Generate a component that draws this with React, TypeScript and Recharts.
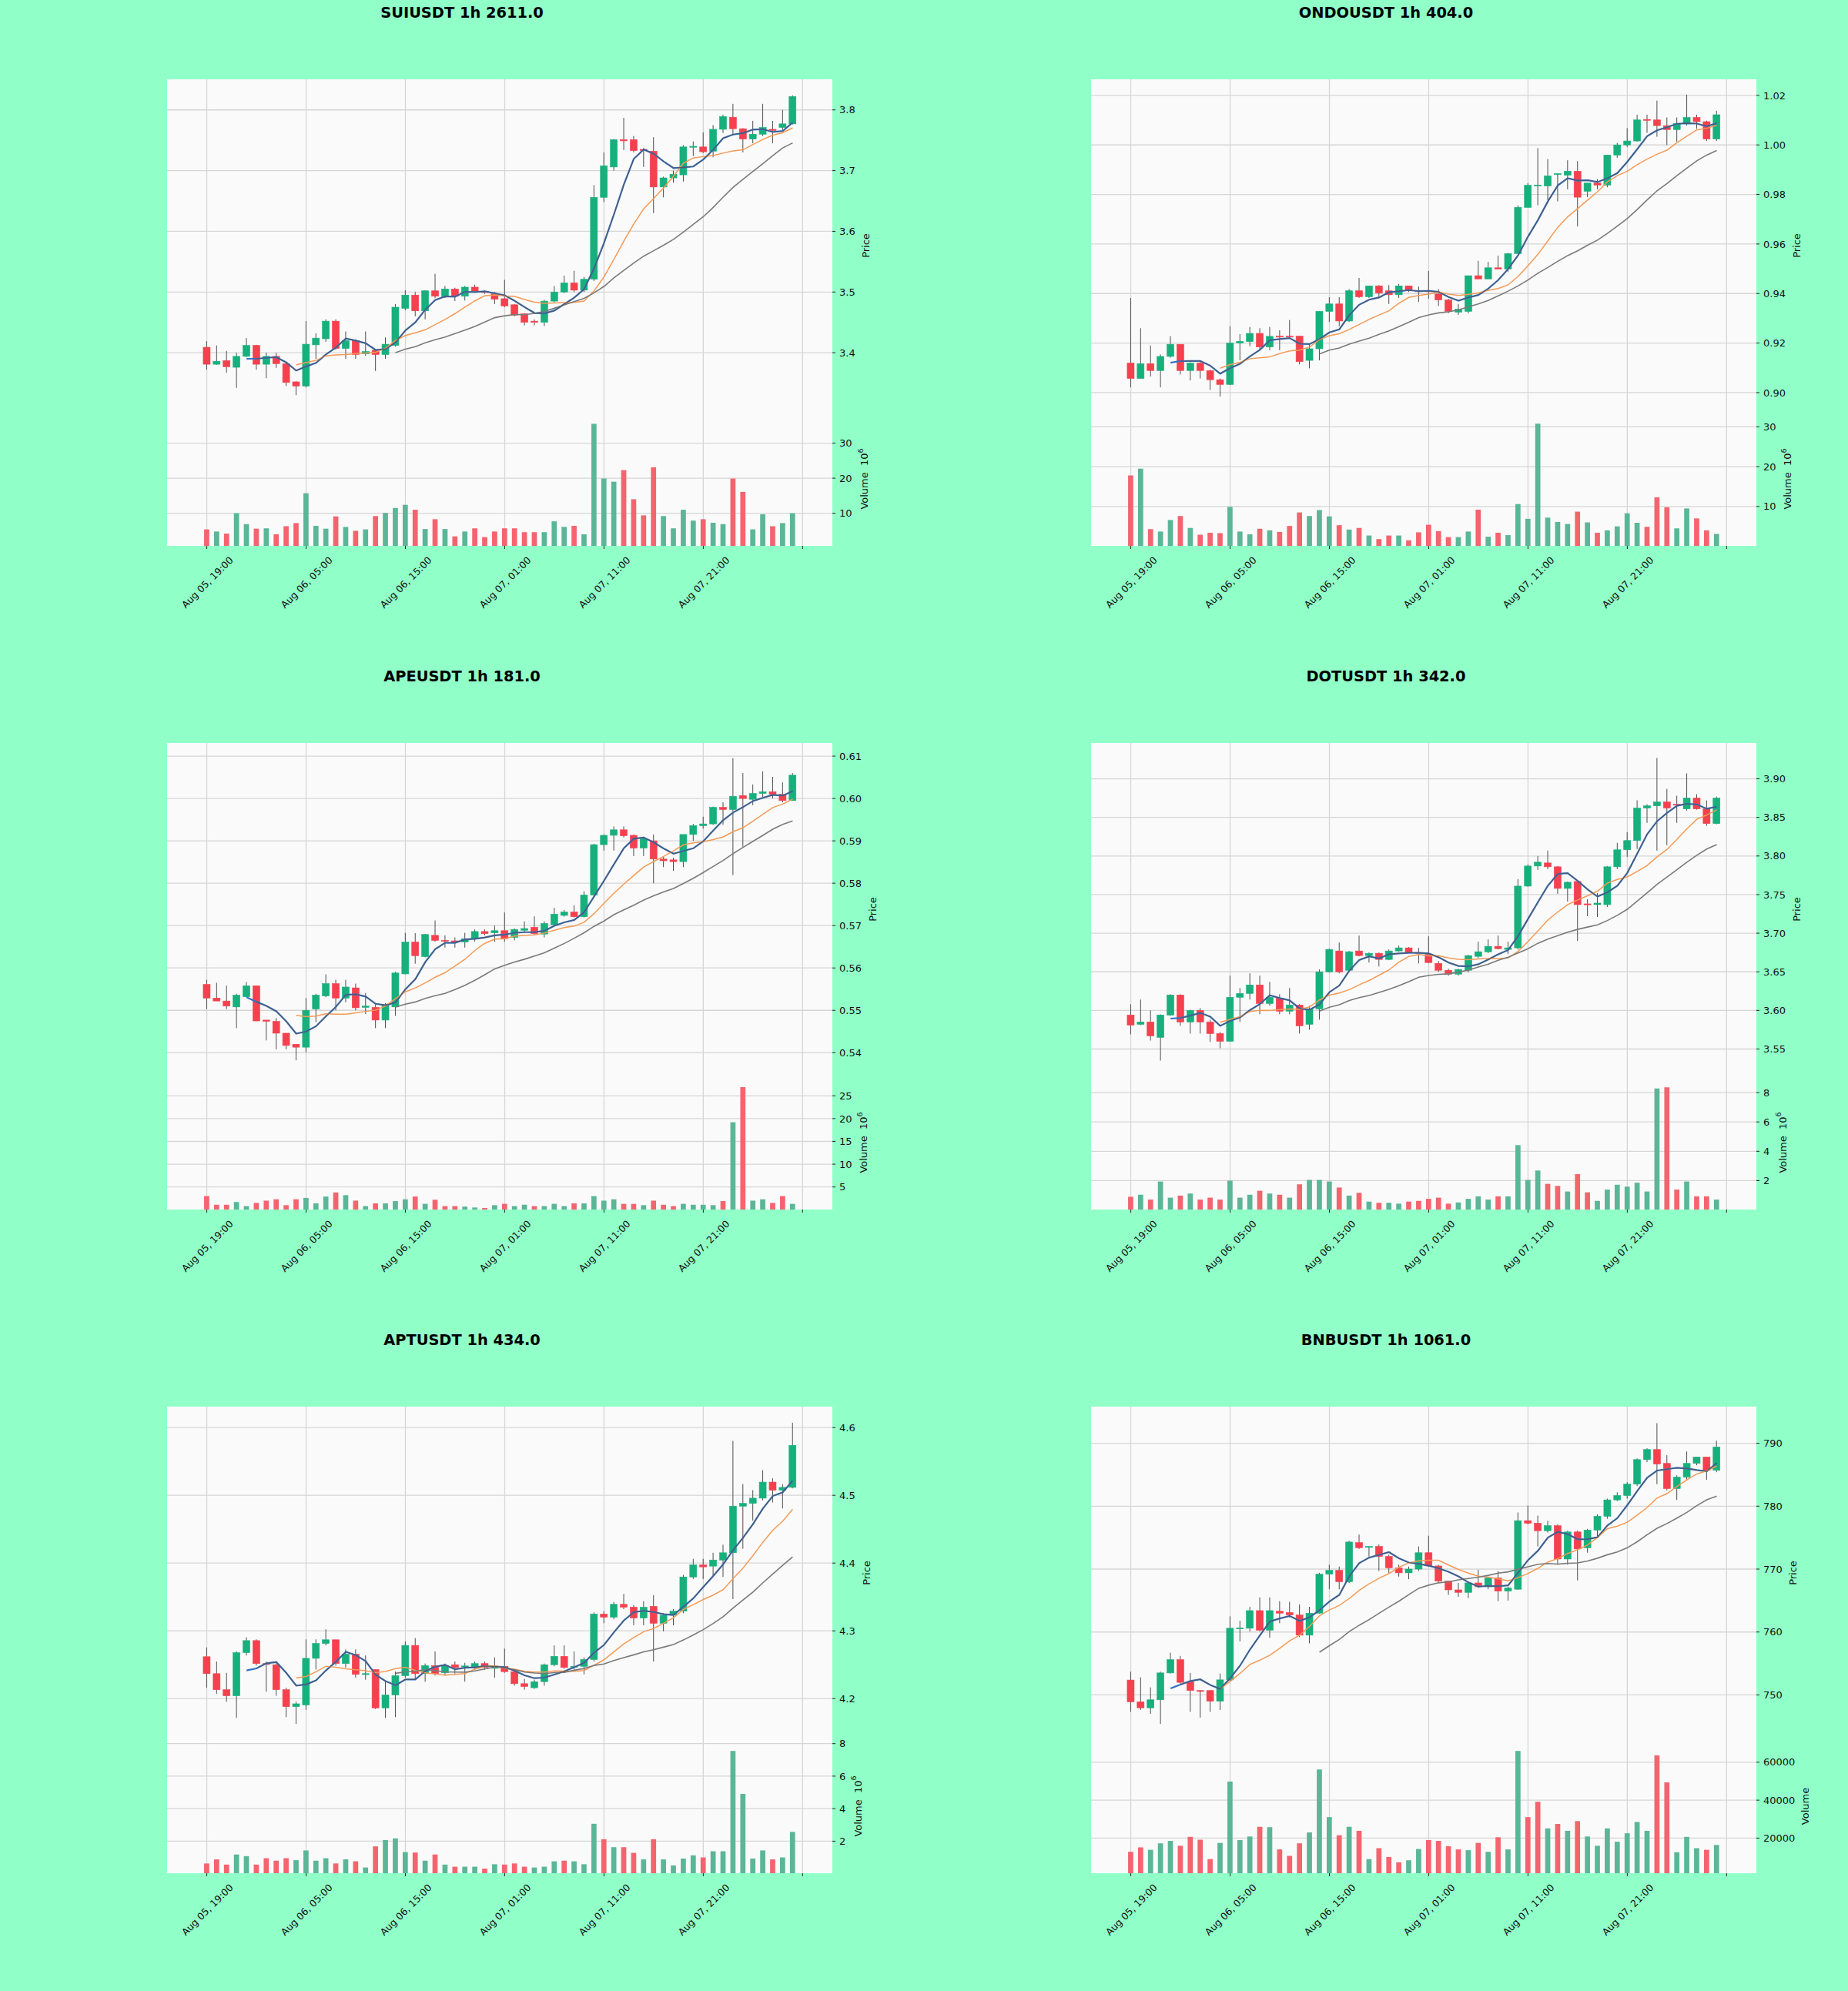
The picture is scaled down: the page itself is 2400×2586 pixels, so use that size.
import React from 'react'
import { ComposedChart, Bar, Line, XAxis, YAxis, CartesianGrid } from 'recharts'

const FONT = '"DejaVu Sans", Verdana, sans-serif'
const FIG_BG = '#90ffc8'
const PANEL_BG = '#fafafa'
const GRID = '#d6d6d6'
const UP = '#17b07c'
const DOWN = '#f5404e'
const VOL_UP = '#5ab697'
const VOL_DOWN = '#f3646e'
const WICK = '#4d4d4d'

const PLOT_W = 864
const AXIS_W = 120
const PRICE_H = 432
const VOL_H = 174
const XLAB_H = 110
const PAD = 12
const BODY_W = 9
const VOL_W = 6.7

const TIME_LABELS = ['Aug 05, 19:00', 'Aug 06, 05:00', 'Aug 06, 15:00', 'Aug 07, 01:00', 'Aug 07, 11:00', 'Aug 07, 21:00']
const X_TICKS = [0, 10, 20, 30, 40, 50, 60]

// candles as [open, high, low, close]
const SUI_OHLC = [
  [3.409, 3.419, 3.372, 3.381], [3.381, 3.412, 3.38, 3.386], [3.387, 3.403, 3.367, 3.377], [3.376, 3.4, 3.342, 3.394],
  [3.394, 3.424, 3.393, 3.412], [3.412, 3.413, 3.372, 3.381], [3.381, 3.4, 3.358, 3.394], [3.394, 3.4, 3.375, 3.382],
  [3.382, 3.385, 3.345, 3.351], [3.352, 3.353, 3.33, 3.345], [3.345, 3.452, 3.343, 3.414], [3.413, 3.432, 3.39, 3.424],
  [3.423, 3.455, 3.418, 3.452], [3.452, 3.455, 3.405, 3.407], [3.407, 3.435, 3.39, 3.42], [3.42, 3.422, 3.39, 3.397],
  [3.398, 3.435, 3.395, 3.402], [3.404, 3.405, 3.37, 3.397], [3.397, 3.425, 3.39, 3.414], [3.412, 3.48, 3.41, 3.475],
  [3.473, 3.503, 3.47, 3.495], [3.495, 3.5, 3.46, 3.469], [3.469, 3.503, 3.455, 3.502], [3.502, 3.53, 3.49, 3.493],
  [3.493, 3.51, 3.49, 3.505], [3.505, 3.507, 3.485, 3.493], [3.493, 3.51, 3.486, 3.508], [3.508, 3.512, 3.499, 3.501],
  [3.501, 3.502, 3.497, 3.499], [3.497, 3.5, 3.48, 3.488], [3.489, 3.52, 3.475, 3.477], [3.479, 3.48, 3.46, 3.462],
  [3.464, 3.465, 3.445, 3.45], [3.452, 3.455, 3.445, 3.45], [3.45, 3.487, 3.444, 3.485], [3.485, 3.51, 3.483, 3.5],
  [3.5, 3.527, 3.498, 3.515], [3.515, 3.535, 3.5, 3.503], [3.503, 3.525, 3.5, 3.521], [3.521, 3.676, 3.518, 3.656],
  [3.656, 3.73, 3.648, 3.708], [3.706, 3.752, 3.7, 3.751], [3.751, 3.787, 3.734, 3.749], [3.751, 3.757, 3.73, 3.733],
  [3.735, 3.737, 3.706, 3.733], [3.732, 3.755, 3.63, 3.673], [3.673, 3.69, 3.656, 3.688], [3.688, 3.7, 3.68, 3.694],
  [3.693, 3.742, 3.682, 3.739], [3.739, 3.748, 3.724, 3.74], [3.739, 3.763, 3.729, 3.731], [3.732, 3.775, 3.722, 3.768],
  [3.768, 3.792, 3.762, 3.789], [3.788, 3.81, 3.76, 3.769], [3.769, 3.77, 3.73, 3.752], [3.752, 3.782, 3.745, 3.76],
  [3.76, 3.81, 3.757, 3.771], [3.768, 3.782, 3.745, 3.766], [3.771, 3.8, 3.765, 3.777], [3.777, 3.824, 3.776, 3.822],
]
const SUI_VOL = [
  5.4, 4.8, 4.2, 10, 6.9, 5.6, 5.7, 4.0, 6.3, 7.2, 15.7, 6.4, 5.6, 9.1, 6.1, 5.0, 5.4, 9.2, 10.1, 11.5,
  12.4, 11.0, 5.5, 8.3, 5.5, 3.4, 4.8, 5.7, 3.2, 4.8, 5.7, 5.7, 4.6, 4.6, 4.6, 7.7, 6.1, 6.4, 4.0, 35.5,
  19.9, 19.0, 22.3, 14.0, 9.4, 23.1, 9.2, 5.7, 11.0, 7.9, 8.3, 7.3, 6.9, 19.9, 16.1, 5.4, 9.7, 6.3, 7.2, 10.0,
]

const ONDO_OHLC = [
  [0.9119, 0.9382, 0.9021, 0.9057], [0.9057, 0.926, 0.9057, 0.9117], [0.9117, 0.919, 0.9065, 0.9089], [0.9089, 0.9154, 0.9021, 0.9146],
  [0.9146, 0.9228, 0.9141, 0.9195], [0.9195, 0.9195, 0.9073, 0.9089], [0.9089, 0.9122, 0.9049, 0.9119], [0.9119, 0.913, 0.9057, 0.9089],
  [0.9089, 0.9093, 0.9011, 0.9052], [0.9052, 0.9057, 0.8984, 0.9033], [0.9033, 0.9268, 0.903, 0.92], [0.92, 0.9236, 0.913, 0.9207],
  [0.9206, 0.9265, 0.9187, 0.9239], [0.9239, 0.926, 0.9171, 0.9184], [0.9184, 0.9265, 0.9171, 0.9227], [0.9228, 0.9252, 0.9171, 0.9224],
  [0.9228, 0.9293, 0.9217, 0.9226], [0.9228, 0.9228, 0.9114, 0.9125], [0.913, 0.9198, 0.9098, 0.9177], [0.9177, 0.9328, 0.913, 0.9328],
  [0.9328, 0.9385, 0.9285, 0.9358], [0.9358, 0.9385, 0.9268, 0.9289], [0.9289, 0.9418, 0.9285, 0.9411], [0.9411, 0.9463, 0.9382, 0.9387],
  [0.9387, 0.9431, 0.9382, 0.9431], [0.9431, 0.9434, 0.9385, 0.9402], [0.9411, 0.9434, 0.9358, 0.9395], [0.9395, 0.9439, 0.9382, 0.9431],
  [0.9431, 0.9431, 0.9406, 0.9411], [0.9411, 0.9428, 0.9366, 0.9408], [0.9411, 0.9491, 0.9379, 0.9409], [0.9398, 0.9418, 0.935, 0.9374],
  [0.9374, 0.9379, 0.932, 0.9328], [0.9325, 0.9358, 0.9314, 0.9337], [0.9328, 0.9472, 0.932, 0.9472], [0.9472, 0.9532, 0.9459, 0.9459],
  [0.9459, 0.9528, 0.9459, 0.9504], [0.9504, 0.9553, 0.9499, 0.9499], [0.9499, 0.9564, 0.9488, 0.9561], [0.9561, 0.9756, 0.9561, 0.9748],
  [0.9748, 0.9846, 0.9748, 0.9837], [0.9835, 0.9987, 0.9756, 0.9838], [0.9834, 0.9943, 0.9777, 0.9875], [0.9881, 0.9886, 0.9772, 0.9884],
  [0.9878, 0.9938, 0.9821, 0.9894], [0.9894, 0.9935, 0.9671, 0.9789], [0.9813, 0.9846, 0.9789, 0.9846], [0.9846, 0.9862, 0.9821, 0.9838],
  [0.9838, 0.9959, 0.9829, 0.9959], [0.9959, 1.0008, 0.9948, 1.0], [1.0, 1.0068, 0.9992, 1.0016], [1.0016, 1.0122, 1.0013, 1.0101],
  [1.0103, 1.0122, 1.0049, 1.01], [1.0101, 1.0179, 1.0033, 1.0078], [1.0078, 1.0111, 1.0, 1.0062], [1.0062, 1.0111, 1.0013, 1.0086],
  [1.0086, 1.0203, 1.0078, 1.0111], [1.0111, 1.0122, 1.0065, 1.0094], [1.0094, 1.0098, 1.0016, 1.0024], [1.0024, 1.0138, 1.0016, 1.0122],
]
const ONDO_VOL = [
  17.8, 19.5, 4.3, 3.7, 6.6, 7.6, 4.6, 2.9, 3.4, 3.3, 9.9, 3.7, 3.0, 4.4, 4.0, 3.6, 5.1, 8.5, 7.6, 9.1,
  7.5, 5.3, 4.2, 4.6, 2.7, 1.8, 2.7, 2.7, 1.5, 3.5, 5.4, 3.8, 2.3, 2.3, 3.7, 9.2, 2.4, 3.4, 2.8, 10.6,
  6.9, 30.8, 7.2, 6.1, 5.6, 8.7, 6.0, 3.4, 4.0, 5.0, 8.3, 5.9, 4.9, 12.3, 9.8, 4.5, 9.5, 7.0, 4.0, 3.1,
]

const APE_OHLC = [
  [0.5561, 0.5572, 0.5503, 0.5529], [0.5529, 0.5565, 0.5522, 0.5522], [0.5522, 0.5558, 0.5503, 0.551], [0.5508, 0.5539, 0.5458, 0.5536],
  [0.5532, 0.5567, 0.5531, 0.5558], [0.5558, 0.5558, 0.5474, 0.5475], [0.5477, 0.5477, 0.5429, 0.5474], [0.5474, 0.5482, 0.5408, 0.5446],
  [0.5446, 0.5446, 0.5408, 0.5417], [0.542, 0.542, 0.5382, 0.5413], [0.5413, 0.5529, 0.5401, 0.55], [0.5503, 0.5539, 0.5472, 0.5536],
  [0.5534, 0.5585, 0.5531, 0.5563], [0.5563, 0.5572, 0.55, 0.5529], [0.5529, 0.5572, 0.5519, 0.5555], [0.5553, 0.5563, 0.55, 0.5506],
  [0.5507, 0.5541, 0.5491, 0.551], [0.5507, 0.5514, 0.5458, 0.5477], [0.5477, 0.5517, 0.5458, 0.5512], [0.5508, 0.5591, 0.5487, 0.5588],
  [0.5586, 0.5683, 0.5585, 0.5661], [0.5661, 0.5682, 0.561, 0.5629], [0.5627, 0.568, 0.5625, 0.5679], [0.5677, 0.5712, 0.5662, 0.5665],
  [0.5665, 0.5677, 0.5648, 0.5663], [0.5664, 0.5672, 0.5648, 0.5661], [0.5661, 0.5683, 0.5648, 0.5669], [0.5669, 0.5691, 0.5662, 0.5686],
  [0.5686, 0.5691, 0.5677, 0.5681], [0.5683, 0.57, 0.5662, 0.5688], [0.5688, 0.5731, 0.5662, 0.5669], [0.5672, 0.5693, 0.5665, 0.5691],
  [0.5689, 0.571, 0.5683, 0.5693], [0.5696, 0.5722, 0.5677, 0.5681], [0.568, 0.571, 0.5672, 0.5705], [0.5702, 0.5742, 0.57, 0.5727],
  [0.5724, 0.5737, 0.5721, 0.5732], [0.5732, 0.5748, 0.5719, 0.5721], [0.5721, 0.5781, 0.5719, 0.5772], [0.5772, 0.5893, 0.5769, 0.5891],
  [0.5891, 0.5915, 0.5877, 0.5913], [0.5913, 0.5934, 0.5877, 0.5926], [0.5926, 0.5934, 0.5908, 0.5912], [0.5913, 0.5915, 0.5864, 0.5883],
  [0.5883, 0.591, 0.5864, 0.5905], [0.59, 0.5915, 0.58, 0.5857], [0.5857, 0.5862, 0.5838, 0.5853], [0.5855, 0.586, 0.5829, 0.5851],
  [0.5851, 0.5915, 0.5838, 0.5915], [0.5915, 0.594, 0.59, 0.5936], [0.5936, 0.5957, 0.5929, 0.594], [0.594, 0.5981, 0.5938, 0.5979],
  [0.5979, 0.5991, 0.5938, 0.5974], [0.5974, 0.6095, 0.5819, 0.6005], [0.6007, 0.606, 0.5886, 0.6], [0.5998, 0.6033, 0.5984, 0.6012],
  [0.6012, 0.6064, 0.6, 0.6016], [0.6016, 0.6051, 0.6, 0.601], [0.601, 0.6038, 0.5991, 0.5995], [0.5995, 0.606, 0.5995, 0.6055],
]
const APE_VOL = [
  3.0, 1.1, 1.1, 1.7, 0.8, 1.5, 2.0, 2.3, 1.0, 2.3, 2.6, 1.4, 2.9, 3.8, 3.2, 2.0, 0.8, 1.4, 1.4, 1.9,
  2.3, 2.9, 1.3, 2.2, 0.8, 0.8, 0.7, 0.5, 0.4, 1.0, 1.3, 0.8, 1.1, 0.8, 0.8, 1.3, 0.8, 1.4, 1.4, 3.0,
  2.0, 2.3, 1.3, 1.3, 1.0, 2.0, 1.1, 0.8, 1.3, 1.1, 1.1, 1.0, 1.9, 19.2, 26.9, 2.0, 2.3, 1.5, 3.0, 1.3,
]

const DOT_OHLC = [
  [3.594, 3.608, 3.569, 3.581], [3.582, 3.614, 3.581, 3.585], [3.585, 3.6, 3.561, 3.567], [3.565, 3.595, 3.535, 3.594],
  [3.594, 3.621, 3.593, 3.62], [3.62, 3.621, 3.58, 3.585], [3.585, 3.601, 3.57, 3.6], [3.6, 3.603, 3.57, 3.585],
  [3.585, 3.588, 3.559, 3.57], [3.57, 3.572, 3.551, 3.56], [3.56, 3.645, 3.56, 3.617], [3.617, 3.629, 3.585, 3.622],
  [3.622, 3.648, 3.614, 3.633], [3.633, 3.645, 3.595, 3.609], [3.609, 3.637, 3.606, 3.617], [3.616, 3.621, 3.595, 3.599],
  [3.599, 3.629, 3.595, 3.607], [3.607, 3.608, 3.57, 3.58], [3.582, 3.606, 3.575, 3.602], [3.602, 3.653, 3.588, 3.65],
  [3.65, 3.68, 3.649, 3.679], [3.677, 3.688, 3.648, 3.65], [3.652, 3.677, 3.65, 3.676], [3.677, 3.697, 3.67, 3.671],
  [3.671, 3.675, 3.662, 3.674], [3.674, 3.675, 3.657, 3.666], [3.666, 3.679, 3.665, 3.677], [3.677, 3.684, 3.676, 3.681],
  [3.681, 3.682, 3.674, 3.675], [3.675, 3.681, 3.661, 3.674], [3.673, 3.696, 3.661, 3.662], [3.661, 3.664, 3.65, 3.652],
  [3.652, 3.654, 3.645, 3.647], [3.647, 3.654, 3.645, 3.653], [3.652, 3.672, 3.649, 3.671], [3.67, 3.689, 3.668, 3.676],
  [3.676, 3.692, 3.674, 3.683], [3.683, 3.697, 3.679, 3.68], [3.679, 3.689, 3.673, 3.681], [3.681, 3.77, 3.679, 3.761],
  [3.761, 3.789, 3.76, 3.787], [3.787, 3.8, 3.782, 3.792], [3.791, 3.807, 3.783, 3.786], [3.786, 3.787, 3.751, 3.758],
  [3.758, 3.767, 3.741, 3.766], [3.767, 3.767, 3.69, 3.737], [3.738, 3.744, 3.722, 3.737], [3.737, 3.752, 3.721, 3.739],
  [3.737, 3.787, 3.734, 3.786], [3.786, 3.817, 3.783, 3.808], [3.808, 3.831, 3.799, 3.82], [3.82, 3.872, 3.809, 3.862],
  [3.862, 3.867, 3.843, 3.865], [3.865, 3.927, 3.807, 3.87], [3.87, 3.887, 3.814, 3.862], [3.867, 3.878, 3.843, 3.866],
  [3.861, 3.907, 3.859, 3.875], [3.875, 3.88, 3.86, 3.861], [3.861, 3.872, 3.839, 3.842], [3.842, 3.877, 3.841, 3.875],
]
const DOT_VOL = [
  0.9, 1.04, 0.71, 1.94, 0.84, 0.98, 1.12, 0.71, 0.84, 0.71, 2.0, 0.84, 1.04, 1.31, 1.12, 1.04, 0.84, 1.75, 2.05, 2.05,
  1.94, 1.53, 0.98, 1.17, 0.57, 0.49, 0.49, 0.43, 0.57, 0.62, 0.76, 0.84, 0.43, 0.51, 0.76, 0.93, 0.71, 0.93, 0.93, 4.42,
  2.05, 2.69, 1.78, 1.64, 1.26, 2.44, 1.2, 0.62, 1.39, 1.72, 1.59, 1.86, 1.26, 8.28, 8.36, 1.39, 1.94, 0.93, 0.93, 0.71,
]

const APT_OHLC = [
  [4.2618, 4.2755, 4.216, 4.2368], [4.2368, 4.2547, 4.2071, 4.2131], [4.2131, 4.238, 4.1953, 4.2042], [4.2042, 4.2696, 4.1715, 4.2678],
  [4.2678, 4.2903, 4.2636, 4.2856], [4.2856, 4.2874, 4.2487, 4.2517], [4.2517, 4.2547, 4.2101, 4.2512], [4.25, 4.2517, 4.2042, 4.2131],
  [4.2131, 4.216, 4.1727, 4.1881], [4.1881, 4.1953, 4.1626, 4.1923], [4.1905, 4.2874, 4.1834, 4.2594], [4.2594, 4.2874, 4.2428, 4.2814],
  [4.2814, 4.3022, 4.2785, 4.2868], [4.2868, 4.2868, 4.2487, 4.2517], [4.2517, 4.2725, 4.2458, 4.2654], [4.2654, 4.2725, 4.2309, 4.2357],
  [4.2363, 4.2636, 4.2279, 4.2368], [4.2428, 4.2428, 4.1846, 4.1863], [4.1863, 4.225, 4.1715, 4.2053], [4.2053, 4.2398, 4.1727, 4.2339],
  [4.2339, 4.2844, 4.2309, 4.2785], [4.2785, 4.2892, 4.2279, 4.2368], [4.2368, 4.2517, 4.225, 4.2487], [4.2487, 4.2696, 4.2339, 4.2368],
  [4.238, 4.2517, 4.2339, 4.2482], [4.25, 4.2547, 4.2368, 4.2458], [4.247, 4.2529, 4.225, 4.2482], [4.2458, 4.2547, 4.2428, 4.2517],
  [4.2517, 4.2547, 4.2428, 4.2458], [4.2455, 4.2607, 4.2309, 4.246], [4.2476, 4.2737, 4.238, 4.2398], [4.2398, 4.2398, 4.219, 4.222],
  [4.222, 4.2291, 4.2131, 4.2178], [4.216, 4.2279, 4.2143, 4.225], [4.225, 4.2517, 4.219, 4.25], [4.25, 4.2785, 4.2476, 4.2624],
  [4.2624, 4.2785, 4.244, 4.2458], [4.247, 4.2696, 4.2428, 4.2476], [4.2476, 4.2607, 4.2357, 4.2577], [4.2577, 4.3272, 4.2547, 4.3248],
  [4.3248, 4.329, 4.3112, 4.3201], [4.3201, 4.3426, 4.3171, 4.3391], [4.3391, 4.3545, 4.332, 4.3349], [4.3349, 4.3379, 4.3082, 4.3189],
  [4.3189, 4.3438, 4.3082, 4.3349], [4.3361, 4.3527, 4.2547, 4.3112], [4.3112, 4.326, 4.2993, 4.323], [4.323, 4.332, 4.3082, 4.329],
  [4.329, 4.3825, 4.326, 4.3795], [4.3795, 4.4062, 4.3765, 4.3973], [4.3973, 4.4062, 4.3765, 4.3944], [4.3955, 4.4152, 4.3795, 4.4045],
  [4.4045, 4.4271, 4.3795, 4.4152], [4.4152, 4.5804, 4.3468, 4.484], [4.484, 4.5166, 4.4211, 4.4881], [4.4881, 4.5076, 4.4627, 4.4958],
  [4.4958, 4.537, 4.4924, 4.5195], [4.5195, 4.5251, 4.4894, 4.5076], [4.5076, 4.5166, 4.4805, 4.5117], [4.5117, 4.6071, 4.5103, 4.5738],
]
const APT_VOL = [
  0.63, 0.88, 0.56, 1.18, 1.08, 0.56, 0.95, 0.8, 0.95, 0.83, 1.43, 0.8, 0.95, 0.63, 0.88, 0.76, 0.38, 1.68, 2.07, 2.17,
  1.33, 1.3, 0.8, 1.18, 0.56, 0.43, 0.43, 0.43, 0.31, 0.58, 0.56, 0.63, 0.43, 0.38, 0.43, 0.76, 0.8, 0.76, 0.58, 3.07,
  2.12, 1.63, 1.63, 1.28, 0.88, 2.12, 0.88, 0.51, 0.93, 1.13, 1.0, 1.38, 1.38, 7.55, 4.91, 0.93, 1.43, 0.88, 1.0, 2.57,
]

const BNB_OHLC = [
  [752.37, 753.7, 747.3, 748.91], [748.91, 752.8, 747.6, 747.95], [747.95, 751.2, 747.0, 749.23], [749.23, 753.7, 745.4, 753.5],
  [753.5, 756.7, 753.4, 755.6], [755.6, 756.2, 751.8, 752.0], [752.1, 753.5, 747.3, 750.7], [750.7, 750.8, 746.4, 750.6],
  [750.7, 750.8, 747.3, 749.0], [749.0, 753.4, 747.6, 752.4], [752.4, 762.5, 752.1, 760.6], [760.55, 761.8, 758.5, 760.65],
  [760.6, 764.0, 760.1, 763.4], [763.4, 765.5, 760.1, 760.3], [760.3, 765.5, 759.1, 763.4], [763.3, 764.9, 761.4, 763.0],
  [763.1, 764.8, 762.3, 762.7], [762.7, 764.4, 759.2, 759.5], [759.5, 764.0, 758.2, 763.0], [763.0, 769.4, 762.9, 769.2],
  [769.2, 770.7, 766.8, 769.8], [769.8, 770.4, 766.8, 768.0], [768.0, 774.5, 767.8, 774.3], [774.2, 775.5, 773.2, 773.4],
  [773.5, 773.6, 772.0, 773.6], [773.6, 773.9, 769.7, 772.0], [772.0, 772.3, 769.4, 770.2], [770.2, 770.7, 768.8, 769.4],
  [769.4, 770.4, 768.4, 770.0], [770.0, 773.6, 769.7, 772.6], [772.6, 775.3, 770.4, 770.5], [770.5, 770.7, 767.8, 768.1],
  [768.1, 768.1, 765.9, 766.7], [766.7, 767.8, 765.6, 766.3], [766.3, 768.0, 765.4, 767.8], [767.8, 769.9, 767.0, 767.2],
  [767.2, 768.8, 766.8, 768.6], [768.6, 769.7, 764.9, 766.5], [766.5, 767.2, 765.0, 767.0], [766.8, 779.0, 766.7, 777.7],
  [777.7, 780.1, 777.1, 777.3], [777.3, 778.5, 773.6, 776.1], [776.1, 777.7, 775.8, 776.9], [776.9, 777.1, 770.7, 771.6],
  [771.6, 776.1, 770.7, 775.9], [775.9, 776.1, 768.2, 773.2], [773.4, 776.4, 772.6, 776.2], [776.2, 778.7, 775.2, 778.4],
  [778.4, 781.2, 778.0, 781.0], [781.0, 782.2, 780.8, 781.7], [781.7, 783.8, 781.2, 783.5], [783.5, 787.6, 783.2, 787.4],
  [787.4, 789.2, 787.0, 789.0], [789.0, 793.2, 783.5, 786.7], [786.8, 788.1, 782.5, 782.8], [782.8, 784.9, 781.0, 784.6],
  [784.6, 788.7, 784.2, 786.8], [786.8, 787.8, 786.5, 787.8], [787.8, 787.8, 784.2, 785.7], [785.7, 790.4, 785.4, 789.4],
]
const BNB_VOL = [
  12760, 15100, 13830, 17230, 18510, 15960, 20640, 19150, 8930, 17450, 49790, 18940, 20850, 25960, 25750, 14040, 10640, 17230, 22980, 56180,
  31070, 21490, 25960, 23830, 8930, 14680, 10000, 7230, 8300, 14250, 18940, 18510, 15740, 14040, 13620, 17450, 12760, 20430, 14040, 65960,
  31070, 39150, 25110, 27450, 23830, 28940, 20850, 15960, 25110, 18080, 22550, 28510, 23830, 63620, 49370, 12550, 20640, 14680, 13830, 16380,
]

type Panel = {
  title: string
  ohlc: number[][]
  vol: number[]
  priceDomain: [number, number]
  priceTicks: number[]
  digits: number
  volDomain: [number, number]
  volTicks: number[]
  volExp: boolean
  priceLabelDx: number
  volLabelDx: number
}

const PANELS: Panel[] = [
  { title: 'SUIUSDT 1h 2611.0', ohlc: SUI_OHLC, vol: SUI_VOL, priceDomain: [3.3025, 3.8504], priceTicks: [3.4, 3.5, 3.6, 3.7, 3.8], digits: 1,
    volDomain: [0.7, 38.9], volTicks: [10, 20, 30], volExp: true, priceLabelDx: 43.5, volLabelDx: 41.5 },
  { title: 'ONDOUSDT 1h 404.0', ohlc: ONDO_OHLC, vol: ONDO_VOL, priceDomain: [0.8922, 1.0265], priceTicks: [0.9, 0.92, 0.94, 0.96, 0.98, 1.0, 1.02], digits: 2,
    volDomain: [0.1, 33.76], volTicks: [10, 20, 30], volExp: true, priceLabelDx: 52.5, volLabelDx: 40.5 },
  { title: 'APEUSDT 1h 181.0', ohlc: APE_OHLC, vol: APE_VOL, priceDomain: [0.5346, 0.6131], priceTicks: [0.54, 0.55, 0.56, 0.57, 0.58, 0.59, 0.6, 0.61], digits: 2,
    volDomain: [0.05, 29.44], volTicks: [5, 10, 15, 20, 25], volExp: true, priceLabelDx: 52.5, volLabelDx: 40.5 },
  { title: 'DOTUSDT 1h 342.0', ohlc: DOT_OHLC, vol: DOT_VOL, priceDomain: [3.5156, 3.9464], priceTicks: [3.55, 3.6, 3.65, 3.7, 3.75, 3.8, 3.85, 3.9], digits: 2,
    volDomain: [0.03, 9.16], volTicks: [2, 4, 6, 8], volExp: true, priceLabelDx: 52, volLabelDx: 34 },
  { title: 'APTUSDT 1h 434.0', ohlc: APT_OHLC, vol: APT_VOL, priceDomain: [4.14, 4.6309], priceTicks: [4.2, 4.3, 4.4, 4.5, 4.6], digits: 1,
    volDomain: [0.03, 8.27], volTicks: [2, 4, 6, 8], volExp: true, priceLabelDx: 44, volLabelDx: 33 },
  { title: 'BNBUSDT 1h 1061.0', ohlc: BNB_OHLC, vol: BNB_VOL, priceDomain: [742.96, 795.82], priceTicks: [750, 760, 770, 780, 790], digits: 0,
    volDomain: [1486, 72128], volTicks: [20000, 40000, 60000], volExp: false, priceLabelDx: 47.7, volLabelDx: 63 },
]

function sma(values: number[], n: number) {
  return values.map((_, i) => {
    if (i < n - 1) return null
    let s = 0
    for (let k = i - n + 1; k <= i; k++) s += values[k]
    return s / n
  })
}

function buildRows(ohlc: number[][], vol: number[]) {
  const closes = ohlc.map((r) => r[3])
  const ma5 = sma(closes, 5)
  const ma10 = sma(closes, 10)
  const ma20 = sma(closes, 20)
  return ohlc.map(([o, h, l, c], i) => ({
    i, o, h, l, c, v: vol[i],
    ma5: ma5[i], ma5b: i >= 5 ? ma5[i] : null, ma10: ma10[i], ma20: ma20[i],
  }))
}

function Candle(props: any) {
  const { x, y, width, height, payload } = props
  if (x == null || !payload) return null
  const cx = x + width / 2
  const yTop = Math.min(y, y + height)
  const hpx = Math.abs(height)
  const { o, h, l, c } = payload
  const span = h - l
  const py = (v: number) => (span > 0 ? yTop + ((h - v) / span) * hpx : yTop)
  const top = py(Math.max(o, c))
  const bot = py(Math.min(o, c))
  const col = c >= o ? UP : DOWN
  return (
    <g>
      <line x1={cx} x2={cx} y1={yTop} y2={yTop + hpx} stroke={WICK} strokeWidth={1} />
      <rect x={cx - BODY_W / 2} y={top} width={BODY_W} height={Math.max(bot - top, 1.2)} fill={col} stroke={col} strokeWidth={0.6} />
    </g>
  )
}

function VolBar(props: any) {
  const { x, y, width, height, payload } = props
  if (x == null || !payload) return null
  const cx = x + width / 2
  const col = payload.c >= payload.o ? VOL_UP : VOL_DOWN
  return <rect x={cx - VOL_W / 2} y={Math.min(y, y + height)} width={VOL_W} height={Math.abs(height)} fill={col} />
}

function TimeTick(props: any) {
  const { x, y, payload } = props
  const label = TIME_LABELS[payload.value / 10]
  if (!label) return null
  const ax = x + 35
  const ay = y + 15.4
  return (
    <text x={ax} y={ay} textAnchor="end" transform={`rotate(-45 ${ax} ${ay})`} fontSize={12.5} fontFamily={FONT} fill="#111">
      {label}
    </text>
  )
}

function axisTitle(dx: number, kind: 'price' | 'vol' | 'volPlain') {
  return (lp: any) => {
    const vb = lp.viewBox || {}
    const tx = vb.x + dx
    const ty = vb.y + vb.height / 2
    return (
      <text x={tx} y={ty} transform={`rotate(-90 ${tx} ${ty})`} textAnchor="middle" dominantBaseline="central"
        fontSize={13} fontFamily={FONT} fill="#111" style={{ whiteSpace: 'pre' }}>
        {kind === 'price' ? 'Price' : kind === 'volPlain' ? 'Volume' : (
          <>
            {'Volume  10'}
            <tspan dy={-6} fontSize={9.5}>6</tspan>
          </>
        )}
      </text>
    )
  }
}

const tickStyle = { fontSize: 13, fill: '#111', fontFamily: FONT }

function PanelChart({ p, left, top }: { p: Panel; left: number; top: number }) {
  const rows = buildRows(p.ohlc, p.vol)
  const fmt = (v: number) => v.toFixed(p.digits)
  return (
    <>
      <div style={{ position: 'absolute', left: left, top: top + 4.5, width: 1200, textAlign: 'center', fontFamily: FONT,
        fontWeight: 'bold', fontSize: 19.4, lineHeight: '23px', color: '#000' }}>
        {p.title}
      </div>
      <div style={{ position: 'absolute', left: left + 216.5, top: top + 103 - PAD }}>
        <ComposedChart width={PLOT_W + AXIS_W} height={PRICE_H + PAD} data={rows} margin={{ top: PAD, right: 0, bottom: 0, left: 0 }}>
          <CartesianGrid stroke={GRID} strokeWidth={1.3} fill={PANEL_BG} syncWithTicks />
          <XAxis type="number" dataKey="i" domain={[-4, 63]} ticks={X_TICKS} allowDataOverflow hide />
          <YAxis orientation="right" type="number" domain={p.priceDomain} ticks={p.priceTicks} allowDataOverflow
            width={AXIS_W} axisLine={false} tickSize={4} tickLine={{ stroke: '#222' }} tickMargin={5}
            tick={tickStyle} tickFormatter={fmt} interval={0} label={axisTitle(p.priceLabelDx, 'price')} />
          <Bar dataKey={(d: any) => [d.l, d.h]} shape={Candle} isAnimationActive={false} />
          <Line dataKey="ma5" stroke="#3472c8" strokeWidth={2.2} dot={false} activeDot={false} isAnimationActive={false} />
          <Line dataKey="ma10" stroke="#f49a55" strokeWidth={1.5} dot={false} activeDot={false} isAnimationActive={false} />
          <Line dataKey="ma20" stroke="#7a7a7a" strokeWidth={1.6} dot={false} activeDot={false} isAnimationActive={false} />
          <Line dataKey="ma5b" stroke="#4f5866" strokeWidth={1.1} dot={false} activeDot={false} isAnimationActive={false} />
        </ComposedChart>
      </div>
      <div style={{ position: 'absolute', left: left + 216.5, top: top + 103 + PRICE_H - PAD }}>
        <ComposedChart width={PLOT_W + AXIS_W} height={VOL_H + XLAB_H + PAD} data={rows} margin={{ top: PAD, right: 0, bottom: 0, left: 0 }}>
          <CartesianGrid stroke={GRID} strokeWidth={1.3} fill={PANEL_BG} syncWithTicks />
          <XAxis type="number" dataKey="i" domain={[-4, 63]} ticks={X_TICKS} allowDataOverflow height={XLAB_H}
            axisLine={false} tickSize={4} tickMargin={0} tickLine={{ stroke: '#222' }} tick={<TimeTick />} interval={0} />
          <YAxis orientation="right" type="number" domain={p.volDomain} ticks={p.volTicks} allowDataOverflow
            width={AXIS_W} axisLine={false} tickSize={4} tickLine={{ stroke: '#222' }} tickMargin={5}
            tick={tickStyle} interval={0} label={axisTitle(p.volLabelDx, p.volExp ? 'vol' : 'volPlain')} />
          <Bar dataKey="v" shape={VolBar} isAnimationActive={false} />
        </ComposedChart>
      </div>
    </>
  )
}

export default function App() {
  return (
    <div style={{ position: 'absolute', left: 0, top: 0, width: 2400, height: 2586, background: FIG_BG, overflow: 'hidden' }}>
      {PANELS.map((p, k) => (
        <PanelChart key={p.title} p={p} left={(k % 2) * 1200} top={Math.floor(k / 2) * 862} />
      ))}
    </div>
  )
}
